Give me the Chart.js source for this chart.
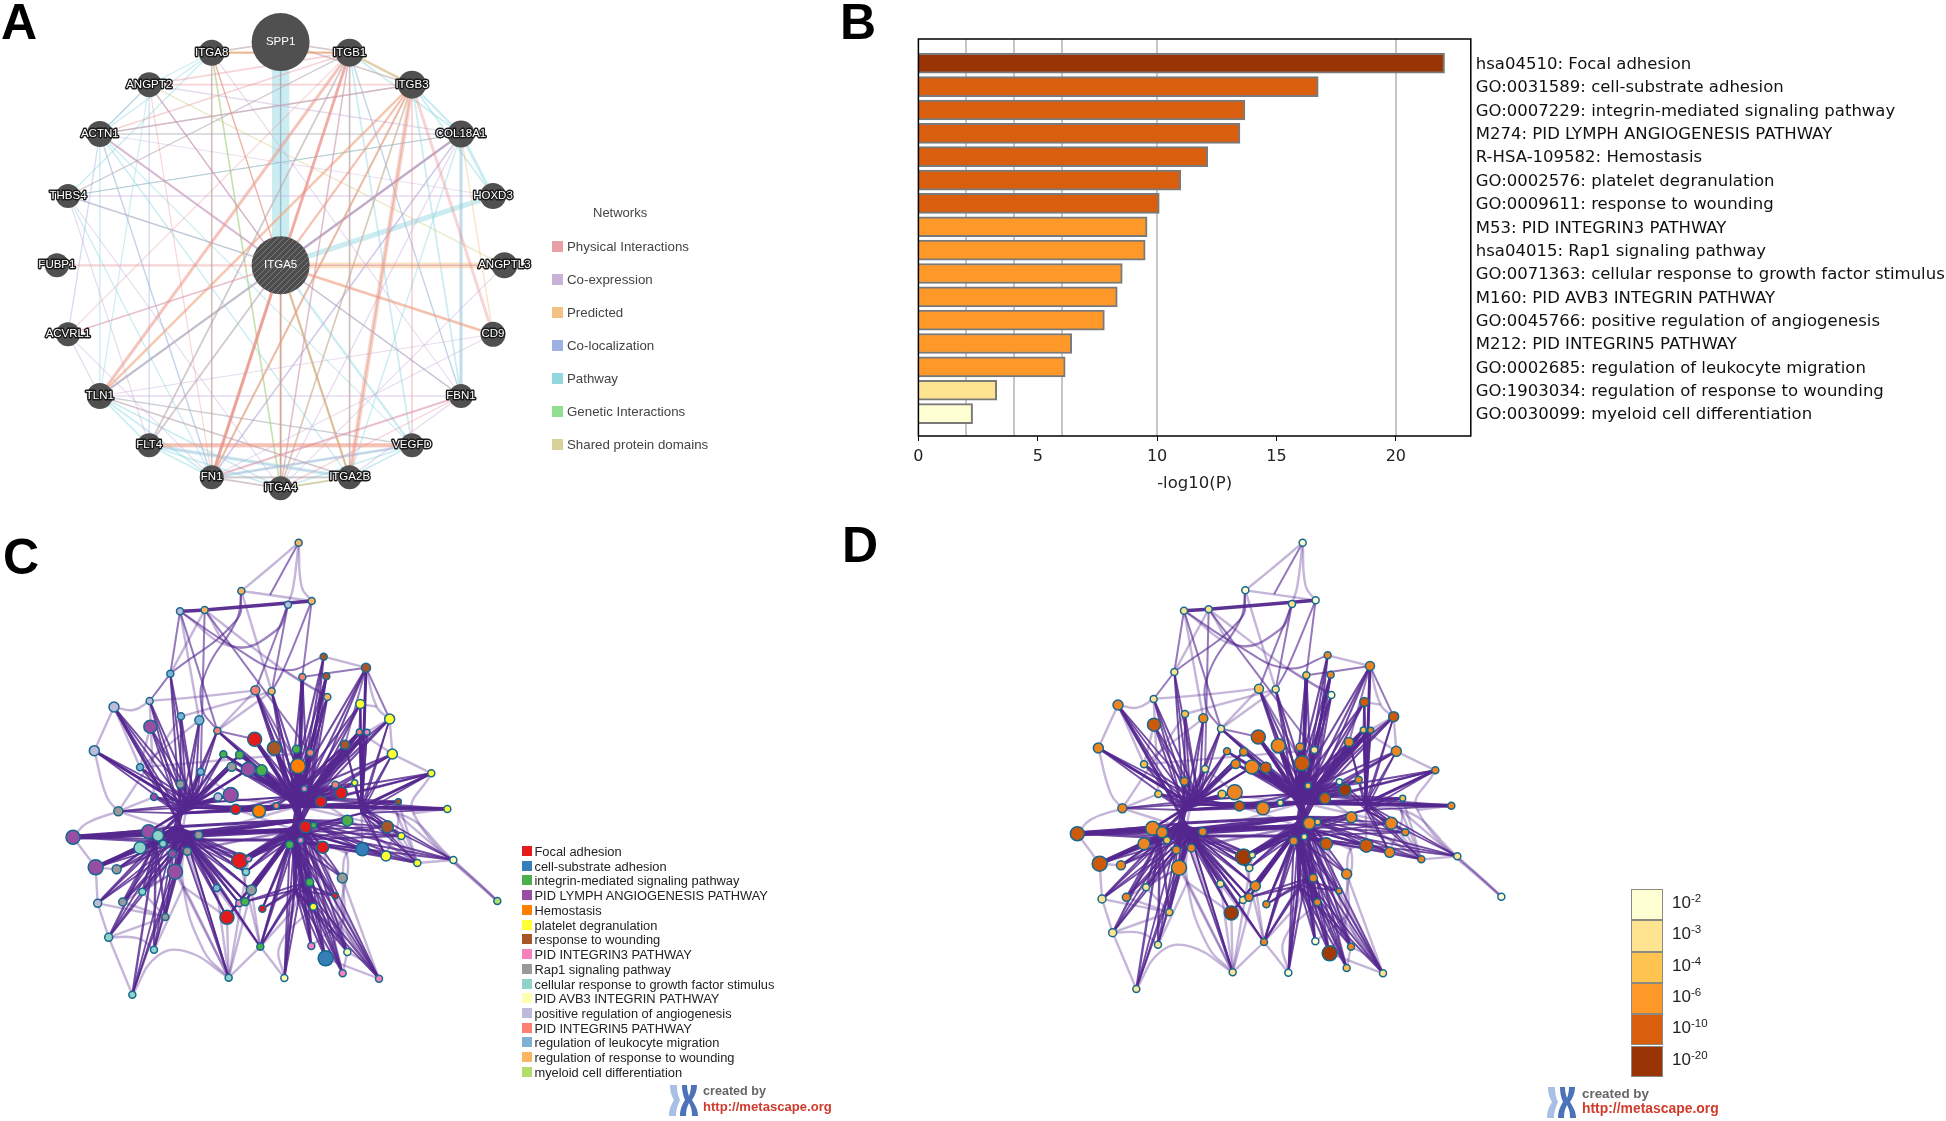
<!DOCTYPE html>
<html>
<head>
<meta charset="utf-8">
<title>Enrichment figure</title>
<script src="https://cdn.jsdelivr.net/npm/chart.js@4"></script>
<style>
  body { margin: 0; background: #fff; width: 1946px; height: 1121px; overflow: hidden; position: relative; font-family: "Liberation Sans", sans-serif; }
  canvas { position: absolute; }
  canvas.soft, .soft { filter: blur(0.45px); }
  .panel { position: absolute; font: bold 50px "Liberation Sans", sans-serif; color: #000; line-height: 1; }
  .net-title { position: absolute; left: 593px; top: 205px; font-size: 13px; color: #444; }
  .net-row { position: absolute; left: 552px; height: 12px; font-size: 13.3px; line-height: 12px; color: #444; white-space: nowrap; }
  .net-row i { position: absolute; left: 0; top: 0; width: 11px; height: 11px; }
  .net-row span { position: absolute; left: 15px; top: 0; }
  .term-row { position: absolute; left: 522px; height: 11px; font-size: 12.85px; line-height: 11px; color: #222; white-space: nowrap; }
  .term-row i { position: absolute; left: 0; top: 0; width: 10px; height: 10px; }
  .term-row span { position: absolute; left: 12.5px; top: 0; }
  .bar-cell { position: absolute; left: 1631px; width: 32px; height: 31.3px; box-sizing: border-box; border: 1px solid #8a8a80; }
  .bar-label { position: absolute; left: 1672px; font-size: 17px; color: #222; line-height: 20px; white-space: nowrap; }
  .bar-label sup { font-size: 11.5px; line-height: 0; position: relative; top: -1px; vertical-align: 5px; }
  .logo { position: absolute; font-weight: bold; white-space: nowrap; line-height: 1; }
</style>
</head>
<body>
<canvas id="geneNet" class="soft" width="560" height="510" style="left:0;top:0"></canvas>
<canvas id="enrichBars" class="soft" width="1086" height="510" style="left:860px;top:0"></canvas>
<canvas id="clusterNet" class="soft" width="540" height="510" style="left:0;top:520px"></canvas>
<canvas id="pvalueNet" class="soft" width="540" height="510" style="left:1040px;top:520px"></canvas>

<div class="panel" style="left:1px;top:-3px">A</div>
<div class="panel" style="left:840px;top:-3px">B</div>
<div class="panel" style="left:3px;top:532px">C</div>
<div class="panel" style="left:842px;top:520px">D</div>
<div id="netLegend" class="soft"></div>
<div id="termLegend" class="soft"></div>
<div id="colorLegend" class="soft"></div>
<div id="logos" class="soft"></div>

<script>
// ---- panel A : gene network ----
var geneNames = ["SPP1", "ITGB1", "ITGB3", "COL18A1", "HOXD3", "ANGPTL3", "CD9", "FBN1", "VEGFD", "ITGA2B", "ITGA4", "FN1", "FLT4", "TLN1", "ACVRL1", "FUBP1", "THBS4", "ACTN1", "ANGPT2", "ITGA8", "ITGA5"];
var geneX = [280.6, 349.6, 412, 461, 493, 504.4, 493, 461, 412, 349.6, 280.6, 211.7, 149.2, 99.8, 68, 56.9, 68, 99.8, 149.2, 211.7, 280.6];
var geneY = [42, 52.7, 84.7, 134, 196, 265.3, 334.3, 396, 445.3, 477.3, 488.3, 477.3, 445.3, 396, 334.3, 265.3, 196, 134, 84.7, 52.7, 265.3];
var geneSize = [29, 14, 14, 13.5, 13, 13, 12.5, 12, 12, 12, 12, 12, 12, 13, 12, 12, 12, 13, 12.5, 13, 29];

var networkTypes = ["Physical Interactions", "Co-expression", "Predicted", "Co-localization", "Pathway", "Genetic Interactions", "Shared protein domains"];
var networkSwatch = ["#e8a0a4", "#c9b2d8", "#f5c083", "#9db2e0", "#93d8df", "#8fe090", "#d8d29a"];

// [from, to, weight]
var physicalEdges = [
  ["ITGB1","TLN1",3],["ITGB1","FN1",2.5],["ITGB1","ITGA5",2.5],["ITGB1","ITGA4",1.5],["ITGB1","ITGA2B",1.5],["ITGB1","FLT4",1.5],
  ["ITGB1","ACTN1",1.5],["ITGB1","ANGPT2",1.5],["ITGB1","SPP1",1.5],["ITGB1","ITGA8",1.5],["ITGB1","THBS4",1],["ITGB1","ACVRL1",1],
  ["ITGB3","ITGA2B",4],["ITGB3","CD9",2.5],["ITGB3","FN1",2],["ITGB3","ITGA5",2],["ITGB3","ACTN1",1.5],["ITGB3","TLN1",1.5],["ITGB3","VEGFD",1.5],
  ["ITGB3","ANGPT2",1.5],["ITGB3","ITGA4",1.5],["ITGA5","FN1",3],["ITGA5","CD9",2],["ITGA5","FUBP1",2],["ITGA5","ACVRL1",1.5],["ITGA5","TLN1",1.5],
  ["ITGA5","FLT4",1.5],["ITGA5","ANGPTL3",1],["ITGA5","ITGA4",1.5],["ITGA5","COL18A1",1.5],["ITGA5","ITGA8",1],["ITGA5","ACTN1",1],
  ["FLT4","VEGFD",4],["FBN1","FN1",2],["FBN1","ITGA4",1.2],["ITGA8","SPP1",1.5],["ITGA8","FN1",1.5],["ITGA8","ITGA2B",1],
  ["TLN1","ITGA2B",1.5],["TLN1","VEGFD",1],["FN1","ITGA4",1.5],["FN1","ITGA2B",1.5],["SPP1","ITGB3",1.5],["ACTN1","COL18A1",1],["ANGPT2","FN1",1],["ANGPT2","ITGA5",1.2]
];
var coexpressionEdges = [
  ["ACTN1","ITGA5",2],["ACTN1","FN1",1],["ACTN1","ITGB3",1],["THBS4","ITGA5",1.2],["THBS4","HOXD3",1.2],["THBS4","FLT4",1],["THBS4","ITGA4",1],
  ["TLN1","ACVRL1",1.2],["TLN1","FBN1",1.2],["TLN1","CD9",1],["ACVRL1","ITGA5",1.2],["ACVRL1","FN1",1],["ANGPT2","COL18A1",1.2],["ANGPT2","ITGA5",1],
  ["COL18A1","FBN1",1.2],["COL18A1","ITGA5",2],["COL18A1","FN1",1.5],["COL18A1","ITGA4",1.2],["FBN1","FN1",1.5],["FBN1","ITGA2B",1.2],["FBN1","ITGA5",1.2],
  ["FN1","VEGFD",1.5],["FN1","CD9",1],["FLT4","ITGA2B",1],["ITGA4","ANGPTL3",1],["ITGA8","FBN1",1],["ITGB1","FBN1",1],["ITGA5","ANGPTL3",1],["HOXD3","ACTN1",0.8]
];
var predictedEdges = [
  ["ITGA5","ANGPTL3",5],["ITGA5","CD9",2.5],["ITGB3","TLN1",2.5],["ITGB1","TLN1",1.5],["ITGB1","FN1",2],["ITGB3","FN1",1.5],["ITGB3","ITGB1",2.5],
  ["ITGB1","ITGA8",2],["COL18A1","CD9",1.2],["ITGB3","ITGA5",1.5],["ITGA5","ITGA2B",2],["ITGA5","ITGA4",1.5],["FLT4","VEGFD",2.5],["ITGA4","ITGA2B",1.5],
  ["ITGA5","FN1",2],["ITGA8","ITGB1",1],["ITGB3","ITGA2B",1.5]
];
var colocalizationEdges = [
  ["ANGPT2","FLT4",1.2],["ACTN1","ACVRL1",1.2],["ACTN1","ITGA5",1.2],["ANGPT2","ACTN1",1],["COL18A1","TLN1",1.5],["COL18A1","ITGA5",1.5],
  ["ITGA5","FBN1",1.2],["THBS4","COL18A1",0.8],["ITGB1","ITGA4",1],["SPP1","ITGA4",0.8],["ANGPT2","ITGA5",1],["FN1","COL18A1",1]
];
var pathwayEdges = [
  ["SPP1","ITGA5",15],["ITGA5","HOXD3",4.5],["COL18A1","HOXD3",2.5],["COL18A1","FBN1",3],["ITGA5","VEGFD",2],["FN1","VEGFD",2.5],["FLT4","ITGA2B",3],
  ["ITGB3","COL18A1",2],["ITGB3","HOXD3",1.5],["ITGA8","SPP1",1.2],["ITGA8","THBS4",1.2],["ITGA8","ACTN1",1.2],["ACTN1","COL18A1",1.2],["ACTN1","TLN1",1.2],
  ["ACTN1","FN1",1.2],["ACTN1","ITGA2B",1.2],["ACTN1","ITGB3",1.2],["ACTN1","VEGFD",1],["THBS4","ITGB1",1.2],["THBS4","FN1",1.2],["THBS4","ITGA5",1.2],["THBS4","COL18A1",1],
  ["ITGB3","FBN1",1.5],["SPP1","ITGA4",1.2],["ITGB1","ITGA2B",1.5],["ITGB1","VEGFD",1.5],["ITGB1","FBN1",1.2],["ITGA5","ITGA2B",1.5],["ITGA5","FN1",1.5],
  ["TLN1","ITGA4",1.5],["TLN1","ITGA2B",1.5],["TLN1","VEGFD",1.2],["TLN1","FLT4",1.5],["TLN1","FN1",1.5],["FLT4","ITGA4",1.5],["FLT4","FN1",1.5],["FN1","ITGA4",1.5],
  ["FN1","ITGA2B",2],["ITGA4","VEGFD",1.5],["ITGA4","ITGA2B",1.5],["ITGA2B","VEGFD",1.5],["ITGB1","ITGB3",1.5],["ITGB1","COL18A1",1.5],["COL18A1","TLN1",2],
  ["ANGPT2","ACTN1",1.2],["ANGPT2","TLN1",1],["ANGPT2","ITGA8",1],["SPP1","ITGB1",1.2],["SPP1","ITGB3",1.2],["ITGA5","FLT4",1.5],["ITGB1","FLT4",1.5],["ITGA8","FN1",1.2],["COL18A1","ITGA2B",1.2]
];
var geneticEdges = [["ITGA8","ITGA4",1.2],["ITGB3","ITGA4",1.2],["ITGB3","FN1",1]];
var sharedEdges = [
  ["ITGA8","ITGA4",1.5],["ITGA8","ITGB1",1.5],["ITGA8","ITGA5",1],["SPP1","ITGA5",1.5],["THBS4","COL18A1",1],["THBS4","ITGA5",1],["ANGPT2","ANGPTL3",1.2],
  ["ITGB1","ITGB3",1.5],["ITGA5","ITGA2B",2],["ITGA5","ITGA4",1.5],["ITGA4","ITGA2B",1.5],["ITGB3","ITGA2B",1],["ITGA5","FBN1",1],["FN1","ITGA8",1],["ITGB1","ITGA2B",1]
];

// ---- panel B : enrichment bars ----
var termLabels = ["hsa04510: Focal adhesion", "GO:0031589: cell-substrate adhesion", "GO:0007229: integrin-mediated signaling pathway", "M274: PID LYMPH ANGIOGENESIS PATHWAY", "R-HSA-109582: Hemostasis", "GO:0002576: platelet degranulation", "GO:0009611: response to wounding", "M53: PID INTEGRIN3 PATHWAY", "hsa04015: Rap1 signaling pathway", "GO:0071363: cellular response to growth factor stimulus", "M160: PID AVB3 INTEGRIN PATHWAY", "GO:0045766: positive regulation of angiogenesis", "M212: PID INTEGRIN5 PATHWAY", "GO:0002685: regulation of leukocyte migration", "GO:1903034: regulation of response to wounding", "GO:0030099: myeloid cell differentiation"];
var termLogP = [22.04, 16.75, 13.68, 13.47, 12.12, 10.99, 10.09, 9.58, 9.5, 8.54, 8.33, 7.79, 6.42, 6.15, 3.28, 2.27];
var termBin = [5, 4, 4, 4, 4, 4, 4, 3, 3, 3, 3, 3, 3, 3, 1, 0];
var xTicks = [0, 5, 10, 15, 20];
var xGridLines = [2, 4, 6, 10, 20];
var binColors = ["#ffffd4", "#fee391", "#fec44f", "#fe9929", "#d95f0e", "#993404"];
var binLabels = ["2", "3", "4", "6", "10", "20"];

// ---- panels C, D : cluster networks (same nodes, two layouts) ----
var clusterNames = ["Focal adhesion", "cell-substrate adhesion", "integrin-mediated signaling pathway", "PID LYMPH ANGIOGENESIS PATHWAY", "Hemostasis", "platelet degranulation", "response to wounding", "PID INTEGRIN3 PATHWAY", "Rap1 signaling pathway", "cellular response to growth factor stimulus", "PID AVB3 INTEGRIN PATHWAY", "positive regulation of angiogenesis", "PID INTEGRIN5 PATHWAY", "regulation of leukocyte migration", "regulation of response to wounding", "myeloid cell differentiation"];
var clusterColors = ["#e41a1c", "#377eb8", "#4daf4a", "#984ea3", "#ff7f00", "#ffff33", "#a65628", "#f781bf", "#999999", "#8dd3c7", "#ffffb3", "#bebada", "#fb8072", "#80b1d3", "#fdb462", "#b3de69"];
var pNodeColors = ["#ffffd4", "#fee391", "#fdc04a", "#ec8420", "#cc5a0c", "#a03a06"];

// index 0..106 = nodes; 107.. = bundling points, never drawn as nodes
var cX = [896,724,935,864,614,540,971,1098,979,907,511,766,815,982,449,1081,342,543,1169,598,451,652,1078,1101,764,823,889,283,931,1177,1035,670,719,420,695,894,745,785,602,1294,1064,541,1006,913,1024,692,462,654,963,1195,829,707,777,355,1342,1042,917,941,1162,446,219,474,596,1204,869,902,489,420,968,1087,562,517,1158,1360,1252,719,746,287,350,525,738,1027,929,427,650,754,1006,293,368,718,735,940,787,681,496,326,462,781,934,977,1042,1028,686,853,1137,397,1492,
  555,560,895,885,1085,885,468,905,800,880,810,710,620,605,830,700,850,600,320,415,560,470,610,550,880,1040,1030,1100,260,400,840,1130,1240,1190,870,925,540,585,560,530,870,905,1085,905];
var cY = [68,213,243,254,270,274,410,443,469,471,461,511,514,531,543,552,561,589,597,601,620,632,636,637,658,685,688,692,698,702,674,703,704,742,740,738,748,751,755,760,788,793,794,806,819,825,831,831,845,845,857,868,873,874,867,902,920,916,920,935,952,947,945,948,974,961,971,983,982,988,994,1001,1008,1020,1029,1022,1016,1042,1048,1055,1056,1074,1087,1115,1104,1110,1127,1150,1146,1150,1145,1160,1166,1192,1191,1252,1289,1280,1278,1315,1296,1360,1373,1374,1376,1424,1143,
  940,862,858,930,860,1110,965,200,150,200,225,300,450,560,330,380,450,530,830,1255,1295,1310,1290,1100,1170,1000,1200,1330,910,570,1275,560,880,880,830,855,880,850,960,920,960,900,880,1090];
var dX = [788,616,827,756,506,432,863,990,872,799,403,657,707,874,341,973,234,435,1061,490,342,543,970,992,655,715,780,175,823,1069,927,561,611,312,587,786,636,677,495,1186,898,433,956,804,915,584,355,546,855,1088,721,598,669,247,1234,934,808,833,1054,338,112,366,488,1096,761,793,381,312,859,979,454,409,1049,1252,1144,611,637,179,243,417,628,920,820,318,541,646,897,186,259,609,627,832,679,574,388,218,354,672,826,869,933,920,578,745,1029,289,1384,
  447,452,787,777,977,777,360,797,692,772,702,602,512,497,722,592,742,492,212,307,452,362,502,442,772,932,922,992,152,292,732,1022,1132,1082,762,817,432,477,452,422,762,797,977,797];
var dY = [68,211,241,252,268,272,406,438,464,466,456,506,508,525,537,546,555,582,590,595,614,626,630,631,651,677,681,684,690,694,666,694,695,733,732,730,741,743,747,751,785,784,779,797,810,817,822,823,835,835,848,858,865,865,857,892,910,906,910,925,941,937,935,937,963,950,961,971,971,977,984,990,997,1009,1018,1011,1005,1031,1036,1043,1044,1062,1074,1102,1091,1098,1113,1137,1132,1140,1132,1147,1153,1179,1177,1238,1274,1266,1264,1300,1280,1344,1357,1358,1360,1407,1130,
  929,852,848,919,850,1097,954,198,149,198,223,297,445,554,327,376,445,524,820,1240,1280,1295,1275,1087,1156,988,1186,1314,899,563,1259,554,870,870,822,845,870,840,948,910,948,890,870,1077];
var nodeCluster = [14,14,14,11,14,11,6,6,6,12,13,12,14,14,11,5,11,13,5,13,3,12,12,7,0,6,2,11,12,5,6,2,2,13,8,4,3,2,13,5,5,8,12,7,0,3,3,11,0,6,12,0,4,8,5,2,0,2,6,3,3,9,8,5,2,7,9,9,0,1,8,3,5,10,5,0,7,3,8,3,9,8,2,9,13,8,0,11,8,7,2,5,0,0,8,9,9,2,7,1,10,7,9,10,7,9,15];
var nodePBin = [0,0,0,1,1,1,3,3,3,2,1,2,1,0,1,4,3,2,4,3,4,1,2,3,4,3,3,3,1,3,3,3,3,2,3,4,3,4,1,3,0,3,3,2,5,3,2,2,4,2,1,4,3,3,3,3,3,2,3,3,4,3,3,3,3,1,2,3,4,4,3,3,3,1,3,5,1,4,3,3,1,3,3,1,1,3,3,1,3,1,3,3,3,5,2,1,1,3,0,5,3,2,1,0,1,1,0];
var nodeSize = [3.5,3.5,3.5,3.5,3.5,3.5,3.5,4.5,3.5,3.5,3.5,4.5,3.5,3.5,3.5,4.5,5,3.5,5,4.5,6.5,3.5,3,3,7,7,4,5,3.5,5,4.5,3.5,4,3.5,4.5,7.5,7,5.5,3.5,3.5,3,4,3.5,3,6,7.5,3.5,4,5.5,3,3,5,6.5,4.5,3.5,5.5,6,3,6,7,7,5.5,4,3.5,4,3,3.5,6,6,6.5,4,4,5,3.5,3.5,8,3,7.5,4.5,7.5,3.5,5,4,3.5,3.5,5,3,4,4,3.5,4,3.5,3.5,7,3.5,4,3.5,3.5,3.5,7.5,3.5,3.5,3.5,3.5,3.5,3.5,3.5];

// bundling points: 107 lower left hub, 108 upper left hub, 109 upper right hub, 110 lower right hub, 111 far right hub, 112 bottom stem, 113 left sub hub
var leftUpperHub = [10,14,16,17,19,20,27,33,38,41,46,47,21,31,32,34,36,45,51,52,53,61,59];
var leftLowerHub = [59,60,61,62,66,67,70,71,77,78,79,83,87,88,94,95,96,102,105,93,84,85,75,80,90,89,97,76];
var subHub = [60,67,77,78,83,87,88,95,96,105,94,59,66];
var rightUpperHub = [6,7,8,9,13,15,18,22,23,24,25,26,28,29,30,35,36,37,11,12,21,31,32,34,42,43,44,40,48,39,50,51,52,54,49];
var rightLowerHub = [56,57,64,65,68,75,76,80,85,81,82,86,90,91,92,93,97,98,99,100,101,104,103,69,72,58,55,63,73,74];
var stemNodes = [98,99,100,101,104,91,82,86,97,90,103,92];
var farRightHub = [7,15,18,29,39,49,54,58,63,72,74,73,40,22,23,30];
var upperFanPoints = [109, 141, 142];
var leftFanPoints = [108, 143, 144];
var lowerLeftFanPoints = [107, 145, 146];
var lowerRightFanPoints = [110, 147, 148];
var stemFanPoints = [112, 150];

// [from, to, weight] : multi-edge bundles
var strongEdges = [
  [60,107,5],[60,59,5],[77,67,4.5],[67,113,4],[59,113,4],[113,146,5],[107,110,4],[145,147,3],[146,148,3],[62,110,5],[108,109,3],[143,109,3],[144,141,2],[107,148,4],[62,148,3],
  [54,109,4],[109,111,3],[149,110,2],[39,111,3],[35,109,5],[37,109,5],[24,109,4],[25,109,3],[36,109,4],[26,109,5],[9,109,4],[75,110,4],[76,110,4],[85,110,4],[64,110,4],[22,109,4],[23,109,4],
  [15,111,2],[7,111,3],[5,4,3.5],[4,2,3.5],[8,109,3],[16,107,3],[27,108,3],[110,112,4],[109,110,7],[141,148,7],[142,147,6],[143,146,6],[144,143,5],[145,146,5],[150,110,5]
];
var thinEdges = [
  [0,117],[1,118,119,120,21],[10,118,1],[5,122,123,6],[7,9],[3,11],[2,123,12],[3,12],[11,109],[11,35],[4,38],[5,21],[4,28],[12,109],[21,24],[21,109],
  [10,5],[2,9],[13,109],[8,28],[7,30],[7,18],[15,22],[22,109],[10,14]
];
var paleEdges = [
  [0,114,2],[0,115,1],[0,116,3],[1,117,2],[3,121,122,4],[3,121,122,5],[16,27],[27,125,53],[16,136,14],[14,124,11],[60,135,53],[60,77],[77,87],[77,78],
  [95,105],[95,126,96],[105,128,127,102],[102,129,130,107],[102,97],[103,97],[103,137,91],[95,87],[96,130],[93,130],[93,102],[102,84],[97,112],[97,85],[6,7],[7,138,18],[15,138],
  [18,29],[29,39],[39,139,106],[106,73],[73,74],[73,140,57],[54,139],[106,140],[74,140],[72,140,111],[72,74],[63,74],[100,134,104],[104,133,132,68],[99,133,81],[98,133],[103,131,82],[97,131],
  [104,99],[101,100],[81,132,69],[132,110],[13,123],[21,11],[21,12],[10,4],[17,53],[19,33],[28,33],[38,45],[47,109],[36,108],[45,108],[52,108],[51,110],[71,110],[62,110],[62,109],[70,110],[79,108],[66,62],[58,109],[69,111],
  [17,12],[85,102],[79,102],[70,102],[66,102],[76,102],[75,97],[84,97],[64,97],[82,104],[81,104],[86,104],[65,104],[56,100],[68,100],[64,101],[56,101],[58,74],[49,74],[55,74],[48,74],[5,19],[4,123,13],[1,12],[11,25],[30,18],[29,22],[53,107],[53,46],[16,33],[14,46],[33,20],[83,94],[87,94],[88,94],[95,94],[83,79],[88,79]
];

function buildDom() {
  var html = '<div class="net-title">Networks</div>';
  networkTypes.forEach(function (name, i) {
    html += '<div class="net-row" style="top:' + (241 + i * 33) + 'px"><i style="background:' + networkSwatch[i] + '"></i><span>' + name + '</span></div>';
  });
  document.getElementById('netLegend').innerHTML = html;

  html = '';
  clusterNames.forEach(function (name, i) {
    html += '<div class="term-row" style="top:' + (846 + i * 14.73) + 'px"><i style="background:' + clusterColors[i] + '"></i><span>' + name + '</span></div>';
  });
  document.getElementById('termLegend').innerHTML = html;

  html = '';
  binLabels.forEach(function (power, i) {
    var top = 889 + i * 31.3;
    html += '<div class="bar-cell" style="top:' + top + 'px;background:' + binColors[i] + '"></div>';
    html += '<div class="bar-label" style="top:' + (top + 4) + 'px">10<sup>-' + power + '</sup></div>';
  });
  document.getElementById('colorLegend').innerHTML = html;

  html = '';
  [[668, 1085, 703, 1084, 13.1], [1546, 1087, 1582, 1086, 13.9]].forEach(function (p) {
    html += '<svg style="position:absolute;left:' + p[0] + 'px;top:' + p[1] + 'px" width="33" height="31" viewBox="0 0 33 31">' +
      '<path d="M2 0h7c0 7 1 10 3 15c-2 5-4 9-4 16H1c0-7 2-11 5-16C3 10 2 6 2 0z" fill="#a9c0e6"/>' +
      '<path d="M14 0h5c0 5 1 8 2 11c1-3 2-6 2-11h6c0 6-2 10-5 15c3 5 6 9 6 16h-6c0-6-1-9-3-13c-2 4-3 7-3 13h-6c0-7 2-11 5-16c-2-5-3-9-3-15z" fill="#4c73b8"/></svg>';
    html += '<div class="logo" style="left:' + p[2] + 'px;top:' + (p[3] + 1) + 'px;font-size:' + (p[4] - 0.5) + 'px;color:#666">created by</div>';
    html += '<div class="logo" style="left:' + p[2] + 'px;top:' + (p[3] + 16) + 'px;font-size:' + p[4] + 'px;color:#cf3b2c">http://metascape.org</div>';
  });
  document.getElementById('logos').innerHTML = html;
}
buildDom();

function hiddenScale(max) {
  return { type: 'linear', min: 0, max: max, display: false };
}

function hatchPattern() {
  var c = document.createElement('canvas');
  c.width = 6; c.height = 6;
  var g = c.getContext('2d');
  g.fillStyle = '#4d4d4d';
  g.fillRect(0, 0, 6, 6);
  g.strokeStyle = '#7a7a7a';
  g.lineWidth = 1;
  g.beginPath();
  g.moveTo(0, 6); g.lineTo(6, 0);
  g.moveTo(-1, 1); g.lineTo(1, -1);
  g.moveTo(5, 7); g.lineTo(7, 5);
  g.stroke();
  return g.createPattern(c, 'repeat');
}

// gene labels sit on top of the nodes
var geneLabelPlugin = {
  id: 'geneLabels',
  afterDatasetsDraw: function (chart) {
    var ctx = chart.ctx;
    ctx.save();
    ctx.textAlign = 'center';
    ctx.textBaseline = 'middle';
    ctx.lineJoin = 'round';
    geneNames.forEach(function (name, i) {
      var px = chart.scales.x.getPixelForValue(geneX[i]);
      var py = chart.scales.y.getPixelForValue(geneY[i]);
      ctx.font = '11.5px "Liberation Sans"';
      if (name !== 'SPP1' && name !== 'ITGA5') {
        ctx.strokeStyle = '#1a1a1a';
        ctx.lineWidth = 2.8;
        ctx.strokeText(name, px, py);
      }
      ctx.fillStyle = '#fff';
      ctx.fillText(name, px, py);
    });
    ctx.restore();
  }
};

function geneEdgeSets() {
  var sets = [];
  var byType = [physicalEdges, coexpressionEdges, predictedEdges, colocalizationEdges, pathwayEdges, geneticEdges, sharedEdges];
  var edgeColor = ['rgba(232,135,140,0.36)', 'rgba(196,165,215,0.4)', 'rgba(245,185,115,0.42)', 'rgba(150,170,222,0.4)', 'rgba(140,215,225,0.45)', 'rgba(130,215,130,0.4)', 'rgba(212,206,140,0.45)'];
  byType.forEach(function (edges, t) {
    edges.forEach(function (e) {
      var a = geneNames.indexOf(e[0]), b = geneNames.indexOf(e[1]);
      sets.push({
        type: 'scatter', showLine: true, pointRadius: 0,
        borderColor: edgeColor[t], borderWidth: e[2] * 1.15,
        data: [{ x: geneX[a], y: geneY[a] }, { x: geneX[b], y: geneY[b] }]
      });
    });
  });
  return sets;
}

new Chart(document.getElementById('geneNet'), {
  type: 'scatter',
  data: {
    datasets: [{
      type: 'bubble',
      data: geneX.map(function (x, i) { return { x: x, y: geneY[i], r: geneSize[i] }; }),
      backgroundColor: geneNames.map(function (n) { return n === 'ITGA5' ? hatchPattern() : '#505050'; }),
      borderWidth: 0
    }].concat(geneEdgeSets())
  },
  options: {
    responsive: false, animation: false,
    plugins: { legend: { display: false }, tooltip: { enabled: false } },
    layout: { padding: 0, autoPadding: false },
    scales: { x: hiddenScale(560), y: { type: 'linear', min: 0, max: 510, reverse: true, display: false } }
  },
  plugins: [geneLabelPlugin]
});

// ---- bars ----
var plotBox = {
  id: 'plotBox',
  afterDraw: function (chart) {
    var a = chart.chartArea, ctx = chart.ctx;
    ctx.save();
    ctx.strokeStyle = '#000';
    ctx.lineWidth = 1.5;
    ctx.strokeRect(a.left, a.top, a.right - a.left, a.bottom - a.top);
    ctx.restore();
  }
};

new Chart(document.getElementById('enrichBars'), {
  type: 'bar',
  data: {
    datasets: [{
      data: termLogP.map(function (v, i) { return { x: v, y: i }; }),
      backgroundColor: termBin.map(function (b) { return binColors[b]; }),
      borderColor: '#7a7a7a',
      borderWidth: 2,
      barThickness: 20
    }]
  },
  options: {
    indexAxis: 'y', responsive: false, animation: false,
    plugins: { legend: { display: false }, tooltip: { enabled: false } },
    layout: { padding: { left: 58.4, top: 39, right: 0, bottom: 0 }, autoPadding: false },
    scales: {
      x: {
        type: 'linear', min: 0, max: 23.14, position: 'bottom',
        afterFit: function (s) { s.height = 74; },
        afterBuildTicks: function (s) { s.ticks = xTicks.map(function (v) { return { value: v }; }); },
        grid: { drawOnChartArea: false, color: '#000', tickLength: 5 },
        border: { display: false },
        ticks: { color: '#222', font: { family: 'DejaVu Sans', size: 16 }, padding: 6, maxRotation: 0 },
        title: { display: true, text: '-log10(P)', color: '#222', font: { family: 'DejaVu Sans', size: 16.5 }, padding: { top: 0, bottom: 16 } }
      },
      x2: {
        type: 'linear', axis: 'x', min: 0, max: 23.14, position: 'top',
        afterFit: function (s) { s.height = 0; },
        afterBuildTicks: function (s) { s.ticks = xGridLines.map(function (v) { return { value: v }; }); },
        grid: { color: '#c6c6c6', lineWidth: 2, drawTicks: false },
        border: { display: false },
        ticks: { display: false }
      },
      y: {
        type: 'linear', min: -1.04, max: 15.96, reverse: true, position: 'right', offset: false,
        afterFit: function (s) { s.width = 475.2; },
        afterBuildTicks: function (s) { s.ticks = termLabels.map(function (t, i) { return { value: i }; }); },
        grid: { display: false, drawTicks: false },
        border: { display: false },
        ticks: {
          color: '#111', padding: 5, autoSkip: false, align: 'center', crossAlign: 'near', labelOffset: 1.5,
          font: { family: 'DejaVu Sans', size: 16.5 },
          callback: function (v) { return termLabels[v]; }
        }
      }
    }
  },
  plugins: [plotBox]
});

// ---- cluster networks ----
function clusterEdgeSets(xs, ys) {
  function set(ids, color, width) {
    return {
      type: 'scatter', showLine: true, pointRadius: 0, tension: 0.45, borderColor: color, borderWidth: width,
      data: ids.map(function (i) { return { x: xs[i], y: ys[i] }; })
    };
  }
  function fan(nodes, points, width) {
    var out = [];
    nodes.forEach(function (n) {
      points.forEach(function (p) { out.push(set([n, p], 'rgba(84,39,143,0.82)', width)); });
    });
    return out;
  }
  var sets = [];
  strongEdges.forEach(function (e) { sets.push(set([e[0], e[1]], 'rgba(84,39,143,0.95)', e[2])); });
  sets = sets.concat(
    fan(leftUpperHub, leftFanPoints, 1.9),
    fan(leftLowerHub, lowerLeftFanPoints, 1.8),
    fan(subHub, [113], 2.4),
    fan(rightUpperHub, upperFanPoints, 2.1),
    fan(rightLowerHub, lowerRightFanPoints, 1.9),
    fan(stemNodes, stemFanPoints, 2),
    fan(farRightHub, [111, 149], 1.7)
  );
  thinEdges.forEach(function (e) { sets.push(set(e, 'rgba(84,39,143,0.62)', 2)); });
  paleEdges.forEach(function (e) { sets.push(set(e, 'rgba(84,39,143,0.34)', 2.4)); });
  return sets;
}

function drawClusterNet(id, xs, ys, fillFor) {
  new Chart(document.getElementById(id), {
    type: 'scatter',
    data: {
      datasets: [{
        type: 'bubble',
        data: nodeSize.map(function (s, i) { return { x: xs[i], y: ys[i], r: s }; }),
        backgroundColor: nodeSize.map(function (s, i) { return fillFor(i); }),
        borderColor: '#17688f',
        borderWidth: 1.5
      }].concat(clusterEdgeSets(xs, ys))
    },
    options: {
      responsive: false, animation: false,
      plugins: { legend: { display: false }, tooltip: { enabled: false } },
      layout: { padding: 0, autoPadding: false },
      scales: { x: hiddenScale(1620), y: { type: 'linear', min: 0, max: 1530, reverse: true, display: false } }
    }
  });
}

drawClusterNet('clusterNet', cX, cY, function (i) { return clusterColors[nodeCluster[i]]; });
drawClusterNet('pvalueNet', dX, dY, function (i) { return pNodeColors[nodePBin[i]]; });
</script>
</body>
</html>
